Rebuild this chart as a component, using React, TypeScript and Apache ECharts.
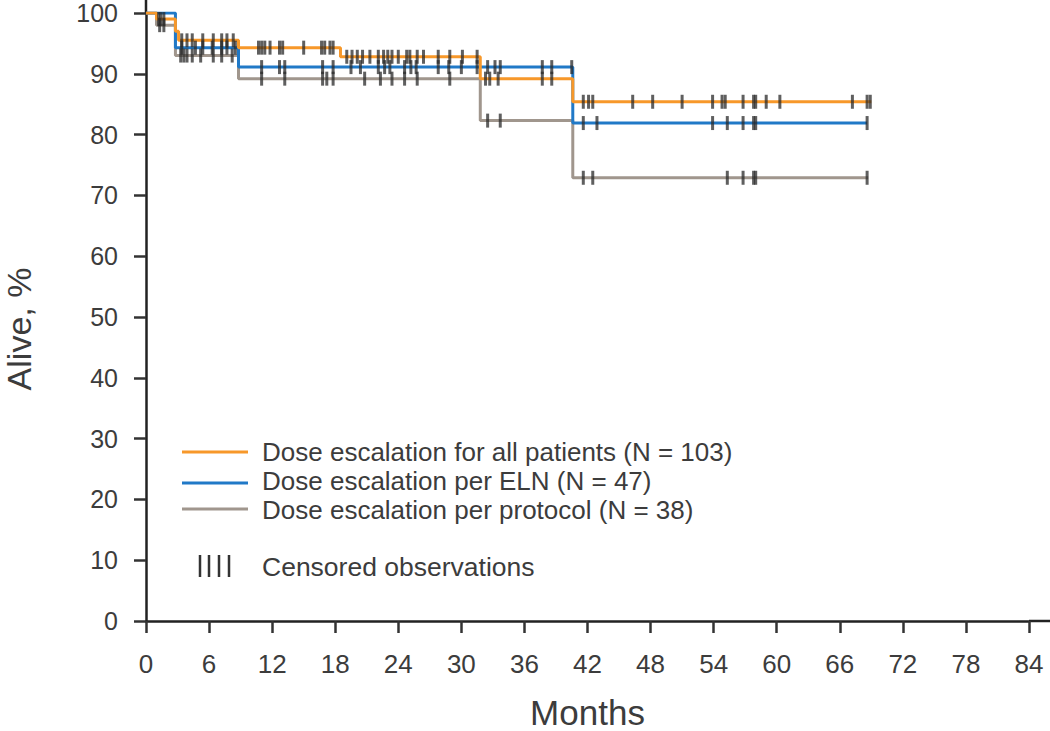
import React, { useEffect, useRef } from "react";
import * as echarts from "echarts";

// Kaplan–Meier step curves (time in months, survival in %)
const allTimes = [0, 1.0, 2.8, 3.1, 8.8, 18.5, 31.8, 40.6, 69.0];
const allSurv = [100, 99.0, 97.0, 95.5, 94.3, 92.8, 89.2, 85.4, 85.4];
const allCensor = [1.2, 1.4, 1.7, 3.4, 3.9, 4.4, 5.4, 6.4, 7.2, 7.7, 8.3, 10.7, 11.0, 11.3, 11.8, 12.7, 13.0, 15.0, 16.7, 17.0, 17.5, 17.8, 19.1, 19.6, 20.1, 20.6, 21.3, 22.1, 22.6, 23.0, 23.4, 24.0, 24.8, 25.1, 25.8, 26.4, 27.8, 28.9, 30.1, 31.5, 32.3, 32.7, 33.5, 37.7, 38.6, 41.6, 42.1, 42.5, 46.3, 48.2, 51.0, 53.9, 54.8, 55.1, 56.8, 57.8, 58.0, 59.0, 60.3, 67.2, 68.6, 68.9];

const elnTimes = [0, 2.8, 8.8, 40.6, 68.6];
const elnSurv = [100, 94.3, 91.1, 81.9, 81.9];
const elnCensor = [3.4, 4.7, 5.4, 6.3, 7.2, 7.7, 8.5, 11.0, 12.7, 13.2, 16.8, 17.8, 19.5, 20.4, 22.1, 22.7, 23.2, 24.6, 25.2, 25.7, 27.8, 28.8, 30.0, 31.5, 32.5, 33.2, 33.7, 37.7, 38.6, 40.5, 41.6, 42.9, 53.9, 55.3, 56.8, 57.8, 58.0, 68.6];

const protoTimes = [0, 1.0, 2.8, 8.8, 31.8, 40.6, 68.7];
const protoSurv = [100, 98.0, 93.0, 89.2, 82.3, 72.9, 72.9];
const protoCensor = [1.3, 1.7, 3.3, 3.6, 3.9, 4.4, 5.2, 6.4, 7.2, 8.2, 11.0, 13.2, 16.8, 17.2, 17.8, 20.8, 22.3, 23.4, 24.6, 25.8, 28.9, 32.5, 33.7, 41.6, 42.5, 55.3, 56.8, 57.8, 58.0, 68.6];

const seriesNames = [
  "Dose escalation for all patients (N = 103)",
  "Dose escalation per ELN (N = 47)",
  "Dose escalation per protocol (N = 38)",
];
const censorLabel = "Censored observations";
const yTitle = "Alive, %";
const xTitle = "Months";
const xTicks = [0, 6, 12, 18, 24, 30, 36, 42, 48, 54, 60, 66, 72, 78, 84];
const yTicks = [0, 10, 20, 30, 40, 50, 60, 70, 80, 90, 100];

const COLORS = ["#f7982a", "#2079c7", "#a0968d"];
const FONT = "Liberation Sans, Arial, sans-serif";
const TEXT = "#3c3c3c";

function survAt(times: number[], surv: number[], t: number) {
  let v = surv[0];
  for (let i = 0; i < times.length; i++) {
    if (times[i] <= t) v = surv[i];
  }
  return v;
}

export default function App() {
  const ref = useRef<HTMLDivElement>(null);
  useEffect(() => {
    const chart = echarts.init(ref.current!, null, { renderer: "svg" });
    const curves = [
      [allTimes, allSurv, allCensor],
      [elnTimes, elnSurv, elnCensor],
      [protoTimes, protoSurv, protoCensor],
    ] as number[][][];

    const lineSeries = curves.map((c, i) => ({
      type: "line",
      name: seriesNames[i],
      step: "end",
      symbol: "none",
      z: 3 - i,
      data: c[0].map((t, k) => [t, c[1][k]]),
      lineStyle: { color: COLORS[i], width: 3 },
      itemStyle: { color: COLORS[i] },
    }));
    const censorSeries = curves.map((c) => ({
      type: "scatter",
      symbol: "rect",
      symbolSize: [3, 14],
      z: 5,
      itemStyle: { color: "#2a2a2a", opacity: 0.75 },
      data: c[2].map((t) => [t, survAt(c[0], c[1], t)]),
    }));

    const lineY = [452, 483, 509];
    const textY = [452, 481, 510];
    const graphic: any[] = [
      // axis extensions
      { type: "line", shape: { x1: 1029, y1: 621, x2: 1050, y2: 621 }, style: { stroke: "#222", lineWidth: 2.5 } },
      { type: "line", shape: { x1: 146, y1: 0, x2: 146, y2: 13 }, style: { stroke: "#222", lineWidth: 2.5 } },
      {
        type: "text", x: 19, y: 329, rotation: Math.PI / 2,
        style: { text: yTitle, fill: TEXT, font: `34px ${FONT}`, lineHeight: 30, align: "center", verticalAlign: "middle" },
      },
    ];
    seriesNames.forEach((n, i) => {
      graphic.push({ type: "line", shape: { x1: 182, y1: lineY[i], x2: 248, y2: lineY[i] }, style: { stroke: COLORS[i], lineWidth: 3 } });
      graphic.push({ type: "text", x: 262, y: textY[i], style: { text: n, fill: TEXT, font: `26px ${FONT}`, lineHeight: 24, verticalAlign: "middle" } });
    });
    [200, 209, 219, 229].forEach((x) => {
      graphic.push({ type: "line", shape: { x1: x, y1: 555, x2: x, y2: 577 }, style: { stroke: "#333", lineWidth: 2.5 } });
    });
    graphic.push({ type: "text", x: 262, y: 567, style: { text: censorLabel, fill: TEXT, font: `26.5px ${FONT}`, lineHeight: 25, verticalAlign: "middle" } });

    chart.setOption({
      animation: false,
      backgroundColor: "#ffffff",
      textStyle: { fontFamily: FONT },
      grid: { left: 146, right: 21, top: 13, bottom: 110, containLabel: false, outerBoundsMode: "none" },
      xAxis: {
        type: "value",
        min: xTicks[0],
        max: xTicks[xTicks.length - 1],
        interval: 6,
        name: xTitle,
        nameLocation: "middle",
        nameGap: 74,
        nameTextStyle: { fontSize: 35, color: TEXT, fontFamily: FONT },
        axisLine: { show: true, lineStyle: { color: "#222", width: 2.5 } },
        axisTick: { show: true, length: 12, lineStyle: { color: "#333", width: 2.5 } },
        axisLabel: { fontSize: 26, color: TEXT, margin: 30, fontFamily: FONT },
        splitLine: { show: false },
      },
      yAxis: {
        type: "value",
        min: yTicks[0],
        max: yTicks[yTicks.length - 1],
        interval: 10,
        axisLine: { show: true, lineStyle: { color: "#222", width: 2.5 } },
        axisTick: { show: true, length: 12, lineStyle: { color: "#333", width: 2.5 } },
        axisLabel: { fontSize: 25, lineHeight: 22, color: TEXT, margin: 28, fontFamily: FONT },
        splitLine: { show: false },
      },
      series: [...lineSeries, ...censorSeries],
      graphic,
    } as any);
    return () => chart.dispose();
  }, []);
  return <div ref={ref} style={{ width: 1050, height: 731, position: "absolute", left: 0, top: 0 }} />;
}
